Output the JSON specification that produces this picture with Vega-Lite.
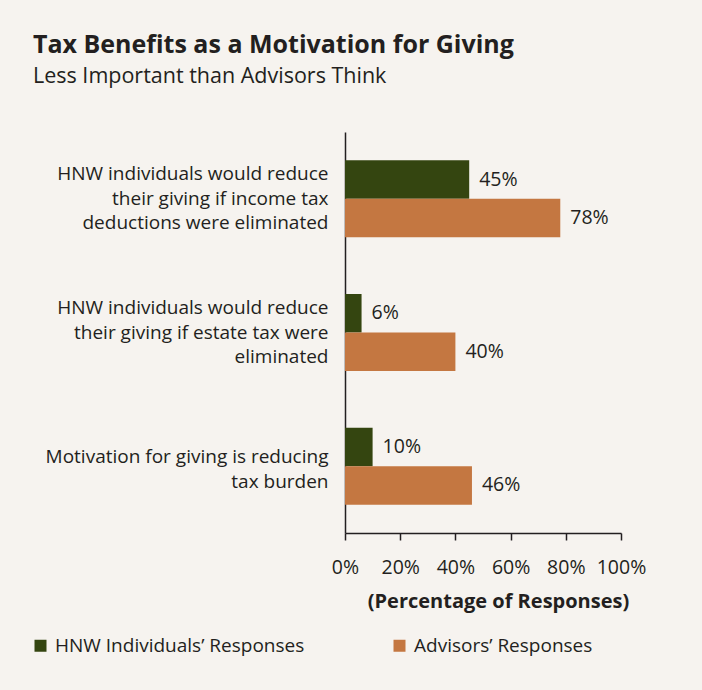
{
  "$schema": "https://vega.github.io/schema/vega-lite/v6.json",
  "width": 276,
  "height": 401,
  "autosize": {"type": "none"},
  "padding": {"left": 345, "top": 132, "right": 81, "bottom": 157},
  "background": "#f6f3ef",
  "config": {
    "font": "Open Sans",
    "view": {"stroke": null},
    "text": {"color": "#231f20"}
  },
  "title": {
    "text": "Tax Benefits as a Motivation for Giving",
    "subtitle": "Less Important than Advisors Think",
    "anchor": "start",
    "frame": "group",
    "dx": -312,
    "offset": 45,
    "fontSize": 25,
    "fontWeight": "bold",
    "color": "#231f20",
    "subtitleFontSize": 21.5,
    "subtitleColor": "#231f20",
    "subtitlePadding": 8
  },
  "data": {
    "values": [
      {"q": "HNW individuals would reduce|their giving if income tax|deductions were eliminated", "s": "HNW Individuals’ Responses", "v": 0.45},
      {"q": "HNW individuals would reduce|their giving if income tax|deductions were eliminated", "s": "Advisors’ Responses", "v": 0.78},
      {"q": "HNW individuals would reduce|their giving if estate tax were|eliminated", "s": "HNW Individuals’ Responses", "v": 0.06},
      {"q": "HNW individuals would reduce|their giving if estate tax were|eliminated", "s": "Advisors’ Responses", "v": 0.40},
      {"q": "Motivation for giving is reducing|tax burden", "s": "HNW Individuals’ Responses", "v": 0.10},
      {"q": "Motivation for giving is reducing|tax burden", "s": "Advisors’ Responses", "v": 0.46}
    ]
  },
  "encoding": {
    "y": {
      "field": "q",
      "type": "nominal",
      "sort": null,
      "scale": {"paddingInner": 0.424, "paddingOuter": 0.212},
      "axis": {
        "title": null,
        "domain": true,
        "domainColor": "#231f20",
        "domainWidth": 1.5,
        "ticks": false,
        "labelFontSize": 19,
        "labelColor": "#231f20",
        "labelPadding": 17,
        "labelLineHeight": 24.5,
        "labelLimit": 0,
        "labelOffset": {"condition": {"test": "indexof(datum.value, 'Motivation') === 0", "value": -9}, "value": -24.5},
        "labelExpr": "split(datum.value, '|')"
      }
    },
    "yOffset": {
      "field": "s",
      "type": "nominal",
      "sort": ["HNW Individuals’ Responses", "Advisors’ Responses"],
      "scale": {"paddingInner": 0, "paddingOuter": 0}
    },
    "x": {
      "field": "v",
      "type": "quantitative",
      "scale": {"domain": [0, 1]},
      "axis": {
        "values": [0, 0.2, 0.4, 0.6, 0.8, 1],
        "format": ".0%",
        "grid": false,
        "domainColor": "#231f20",
        "domainWidth": 1.5,
        "tickColor": "#231f20",
        "tickWidth": 1.5,
        "tickSize": 7,
        "labelFontSize": 19.5,
        "labelColor": "#231f20",
        "labelPadding": 18,
        "labelFlush": false,
        "title": "(Percentage of Responses)",
        "titleFontSize": 20,
        "titleFontWeight": "bold",
        "titleColor": "#231f20",
        "titlePadding": 15,
        "titleX": 153
      }
    }
  },
  "layer": [
    {
      "mark": {"type": "bar"},
      "encoding": {
        "color": {
          "field": "s",
          "type": "nominal",
          "scale": {
            "domain": ["HNW Individuals’ Responses", "Advisors’ Responses"],
            "range": ["#344510", "#c47741"]
          },
          "legend": {
            "title": null,
            "orient": "none",
            "direction": "horizontal",
            "legendX": -314,
            "legendY": 504,
            "symbolType": "square",
            "symbolSize": 144,
            "symbolStrokeWidth": 0,
            "symbolOpacity": 1,
            "labelFontSize": 19,
            "labelColor": "#231f20",
            "labelOffset": 5,
            "columnPadding": 85,
            "labelLimit": 0
          }
        }
      }
    },
    {
      "mark": {"type": "text", "align": "left", "baseline": "middle", "dx": 10, "fontSize": 19.5, "color": "#231f20"},
      "encoding": {
        "text": {"field": "v", "type": "quantitative", "format": ".0%"}
      }
    }
  ]
}
